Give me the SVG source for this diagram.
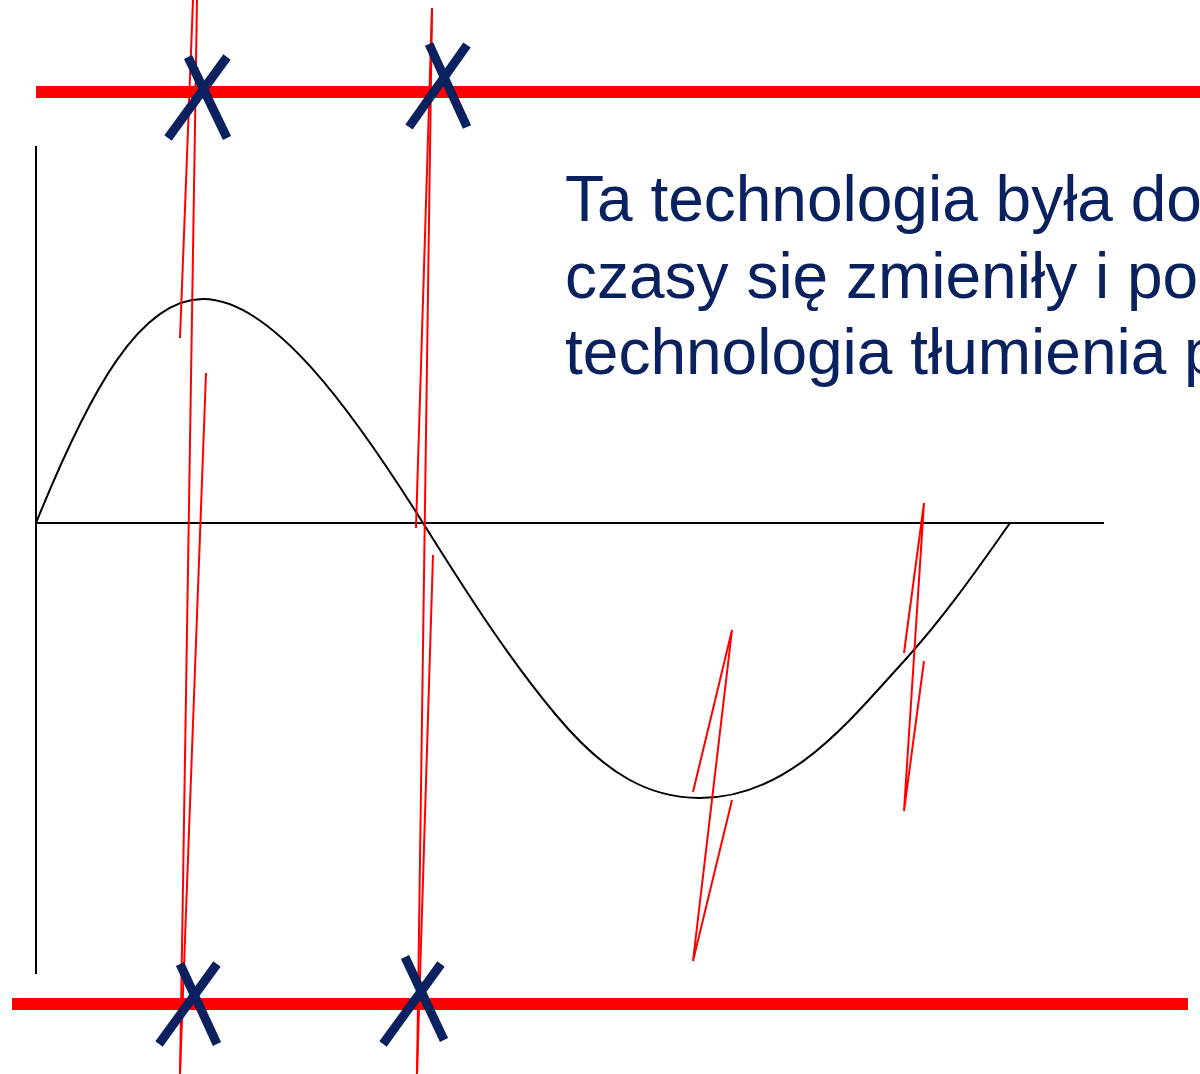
<svg xmlns="http://www.w3.org/2000/svg" width="1200" height="1074" viewBox="0 0 1200 1074">
  <style>
    .axis { stroke: #000; stroke-width: 2; fill: none; }
    .wave { stroke: #000; stroke-width: 2; fill: none; }
    .thin { stroke: #ff0000; stroke-width: 2; fill: none; stroke-linejoin: miter; }
    .bar { stroke: #ff0000; stroke-width: 12; fill: none; }
    .cross { stroke: #0a2160; stroke-width: 9; fill: none; stroke-linecap: butt; }
    .txt { font-family: "Liberation Sans", Arial, sans-serif; font-size: 64px; fill: #0a2160; }
  </style>
  <rect width="1200" height="1074" fill="#ffffff"/>

  <g id="axes">
    <line class="axis" x1="36" y1="146" x2="36" y2="974"/>
    <line class="axis" x1="36" y1="523" x2="1104" y2="523"/>
  </g>

  <g id="wave">
    <path class="wave" d="M36,523 C90,390 140,299 203,299 C272,299 352,410 423,523 C470,598 510,660 556,715 C606,775 650,798 700,798 C790,798 850,720 905,660 C950,610 985,558 1010,523"/>
  </g>

  <g id="connectors">
    <line class="thin" x1="180" y1="338" x2="193" y2="0"/>
    <line class="thin" x1="197" y1="0" x2="180" y2="1074"/>
    <line class="thin" x1="206" y1="373" x2="180" y2="1074"/>
    <line class="thin" x1="416" y1="528" x2="432" y2="8"/>
    <line class="thin" x1="432" y1="8" x2="417" y2="1074"/>
    <line class="thin" x1="433" y1="555" x2="417" y2="1074"/>
    <polyline class="thin" points="693,792 732,630 693,961 732,800"/>
    <polyline class="thin" points="904,653 924,503 904,811 924,661"/>
  </g>

  <g id="bars">
    <line class="bar" x1="36" y1="92" x2="1200" y2="92"/>
    <line class="bar" x1="12" y1="1004" x2="1188" y2="1004"/>
  </g>

  <g id="cross-top-left">
    <line class="cross" x1="168" y1="138" x2="227" y2="57"/>
    <line class="cross" x1="188" y1="57" x2="227" y2="138"/>
  </g>
  <g id="cross-top-mid">
    <line class="cross" x1="409" y1="127" x2="467" y2="45"/>
    <line class="cross" x1="429" y1="44" x2="467" y2="127"/>
  </g>
  <g id="cross-bottom-left">
    <line class="cross" x1="159" y1="1044" x2="217" y2="964"/>
    <line class="cross" x1="180" y1="964" x2="217" y2="1044"/>
  </g>
  <g id="cross-bottom-mid">
    <line class="cross" x1="383" y1="1044" x2="441" y2="964"/>
    <line class="cross" x1="405" y1="957" x2="444" y2="1040"/>
  </g>

  <g id="caption">
    <text class="txt" x="565" y="221">Ta technologia była do</text>
    <text class="txt" x="565" y="298">czasy się zmieniły i po</text>
    <text class="txt" x="565" y="374">technologia tłumienia p</text>
  </g>
</svg>
